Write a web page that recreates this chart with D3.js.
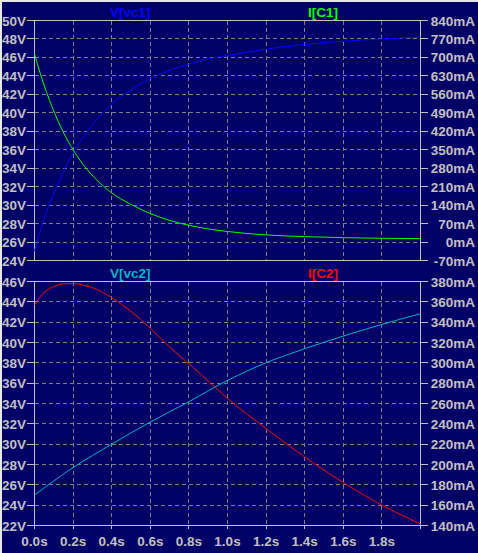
<!DOCTYPE html>
<html>
<head>
<meta charset="utf-8">
<script src="https://cdn.jsdelivr.net/npm/d3@7"></script>
<style>
  html, body { margin: 0; padding: 0; background: #000066; }
  svg { display: block; }
  text { font-family: "Liberation Sans", Arial, sans-serif; font-weight: bold; font-size: 13.5px; }
</style>
</head>
<body>
<svg id="chart" width="478" height="553"></svg>
<script>
// ---------- data ----------
const t1   = [0, 0.03, 0.061, 0.095, 0.147, 0.204, 0.268, 0.32, 0.397, 0.494, 0.6, 0.7, 0.797, 0.89, 1.0, 1.2, 1.4, 1.6, 1.8, 2.0];
const vc1  = [25.0, 27.2, 29.2, 31.0, 33.5, 35.8, 37.8, 39.2, 40.9, 42.4, 43.7, 44.6, 45.25, 45.8, 46.2, 46.9, 47.4, 47.75, 48.0, 48.2];
const ic1  = [714, 639, 571, 505, 420, 345, 279, 237, 188, 145, 108, 82, 64, 51, 40, 27, 20.5, 16.5, 14.2, 13];

const t2   = [0, 0.043, 0.095, 0.147, 0.2, 0.27, 0.32, 0.4, 0.494, 0.6, 0.7, 0.8, 0.89, 1.0, 1.2, 1.4, 1.6, 1.8, 2.0];
const ic2  = [357, 368, 374.5, 377.7, 378, 375.5, 372.5, 364, 351.5, 334, 315.5, 299, 284, 265, 235.3, 207.4, 182.2, 160, 141.5];

const t3   = [0, 0.2, 0.4, 0.6, 0.8, 1.0, 1.2, 1.4, 1.6, 1.8, 2.0];
const vc2  = [25.0, 27.7, 30.0, 32.18, 34.18, 36.27, 38.01, 39.39, 40.63, 41.78, 42.83];

const xTicks    = [0, 0.2, 0.4, 0.6, 0.8, 1.0, 1.2, 1.4, 1.6, 1.8, 2.0];
const xLabels   = ["0.0s","0.2s","0.4s","0.6s","0.8s","1.0s","1.2s","1.4s","1.6s","1.8s"];
const y1LTicks  = [24,26,28,30,32,34,36,38,40,42,44,46,48,50];
const y1RTicks  = [-70,0,70,140,210,280,350,420,490,560,630,700,770,840];
const y2LTicks  = [22,24,26,28,30,32,34,36,38,40,42,44,46];
const y2RTicks  = [140,160,180,200,220,240,260,280,300,320,340,360,380];

const names = {vc1:"V[vc1]", ic1:"I[C1]", vc2:"V[vc2]", ic2:"I[C2]"};

// ---------- styling ----------
const BG = "#000066", AX = "#c0c0c0", GRID = "#808080";
const C_VC1 = "#0000ff", C_IC1 = "#00ff00", C_VC2 = "#00b4c8", C_IC2 = "#ff0000";

const svg = d3.select("#chart");
svg.append("rect").attr("width", 478).attr("height", 553).attr("fill", BG);
// light window edge top/left
svg.append("rect").attr("x",0).attr("y",0).attr("width",478).attr("height",2).attr("fill","#e8e8e8");
svg.append("rect").attr("x",0).attr("y",0).attr("width",2).attr("height",553).attr("fill","#e8e8e8");

const x = d3.scaleLinear().domain([0, 2]).range([34.5, 420.5]);

function pane(cfg) {
  const g = svg.append("g");
  const yL = d3.scaleLinear().domain(cfg.lDom).range([cfg.bottom, cfg.top]);
  const yR = d3.scaleLinear().domain(cfg.rDom).range([cfg.bottom, cfg.top]);
  // grid
  g.selectAll(".hg").data(cfg.lTicks.slice(1, -1)).enter().append("line")
    .attr("x1", x(0)).attr("x2", x(2)).attr("y1", d => yL(d)).attr("y2", d => yL(d))
    .attr("stroke", GRID).attr("stroke-dasharray", "4,3").attr("shape-rendering", "crispEdges");
  g.selectAll(".vg").data(xTicks.slice(1, -1)).enter().append("line")
    .attr("x1", d => x(d)).attr("x2", d => x(d)).attr("y1", cfg.top).attr("y2", cfg.bottom)
    .attr("stroke", GRID).attr("stroke-dasharray", "4,3").attr("shape-rendering", "crispEdges");
  // frame
  g.append("rect").attr("x", x(0)).attr("y", cfg.top).attr("width", x(2) - x(0)).attr("height", cfg.bottom - cfg.top)
    .attr("fill", "none").attr("stroke", AX).attr("shape-rendering", "crispEdges");
  // left ticks + labels
  g.selectAll(".lt").data(cfg.lTicks).enter().append("line")
    .attr("x1", 27).attr("x2", x(0)).attr("y1", d => yL(d)).attr("y2", d => yL(d))
    .attr("stroke", AX).attr("shape-rendering", "crispEdges");
  g.selectAll(".ll").data(cfg.lTicks).enter().append("text")
    .attr("x", 26).attr("y", d => yL(d) + 5).attr("text-anchor", "end").attr("fill", AX)
    .text(d => d + "V");
  // right ticks + labels
  g.selectAll(".rt").data(cfg.rTicks).enter().append("line")
    .attr("x1", x(2)).attr("x2", 428).attr("y1", d => yR(d)).attr("y2", d => yR(d))
    .attr("stroke", AX).attr("shape-rendering", "crispEdges");
  g.selectAll(".rl").data(cfg.rTicks).enter().append("text")
    .attr("x", 475).attr("y", d => yR(d) + 5).attr("text-anchor", "end").attr("fill", AX)
    .text(d => d + "mA");
  // traces
  const lineL = (ts) => d3.line().x((d, i) => x(ts[i])).y(d => yL(d)).curve(d3.curveMonotoneX);
  const lineR = (ts) => d3.line().x((d, i) => x(ts[i])).y(d => yR(d)).curve(d3.curveMonotoneX);
  g.append("path").datum(cfg.vData).attr("d", lineL(cfg.vT)).attr("fill", "none").attr("stroke", cfg.vColor).attr("stroke-width", 1);
  g.append("path").datum(cfg.iData).attr("d", lineR(cfg.iT)).attr("fill", "none").attr("stroke", cfg.iColor).attr("stroke-width", 1);
  // titles
  g.append("text").attr("x", 110).attr("y", cfg.top - 4).attr("fill", cfg.vColor).text(cfg.vName);
  g.append("text").attr("x", 308).attr("y", cfg.top - 4).attr("fill", cfg.iColor).text(cfg.iName);
  return g;
}

pane({top: 20.5, bottom: 260.5, lDom: [24, 50], rDom: [-70, 840], lTicks: y1LTicks, rTicks: y1RTicks,
      vT: t1, vData: vc1, vColor: C_VC1, vName: names.vc1,
      iT: t1, iData: ic1, iColor: C_IC1, iName: names.ic1});
pane({top: 281.5, bottom: 525.5, lDom: [22, 46], rDom: [140, 380], lTicks: y2LTicks, rTicks: y2RTicks,
      vT: t3, vData: vc2, vColor: C_VC2, vName: names.vc2,
      iT: t2, iData: ic2, iColor: C_IC2, iName: names.ic2});

// x axis ticks + labels (bottom)
svg.selectAll(".xt").data(xTicks).enter().append("line")
  .attr("x1", d => x(d)).attr("x2", d => x(d)).attr("y1", 525.5).attr("y2", 529)
  .attr("stroke", AX).attr("shape-rendering", "crispEdges");
svg.selectAll(".xl").data(xLabels).enter().append("text")
  .attr("x", (d, i) => x(xTicks[i])).attr("y", 546).attr("text-anchor", "middle").attr("fill", AX)
  .text(d => d);
</script>
</body>
</html>
